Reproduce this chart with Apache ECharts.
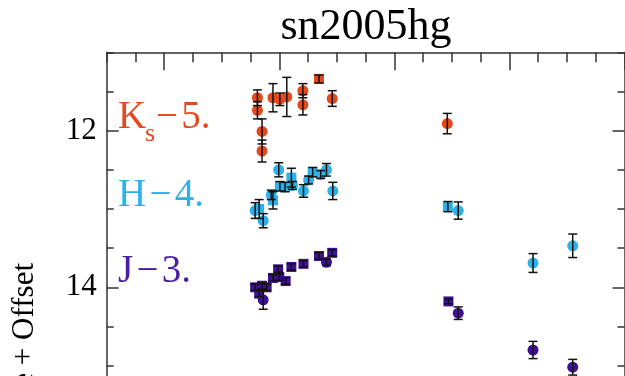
<!DOCTYPE html>
<html><head><meta charset="utf-8">
<script src="https://cdn.jsdelivr.net/npm/echarts@6/dist/echarts.min.js"></script>
<style>html,body{margin:0;padding:0;background:#fff}#c{width:625px;height:376px}</style>
</head><body><div id="c"></div>
<script>
const chartTitle = 'sn2005hg';
const yLabelText = 'Magnitude + Offset';
const yTickLabels = [12, 14, 16];
const xMajorTicks = [0, 20, 40, 60, 80];
// [day, magnitude, error]
const kCircles = [
  [16.2, 11.58, 0.10], [16.2, 11.74, 0.11], [17.0, 12.01, 0.16], [17.0, 12.26, 0.14],
  [18.9, 11.58, 0.18], [20.1, 11.60, 0.08], [21.3, 11.57, 0.25], [24.1, 11.49, 0.09],
  [24.1, 11.67, 0.13], [29.2, 11.59, 0.10], [49.2, 11.91, 0.13]
];
const kSquares = [[26.9, 11.34, 0.05]];
const hCircles = [
  [15.8, 13.02, 0.10], [17.2, 13.15, 0.09], [18.6, 12.82, 0.06], [19.9, 12.50, 0.09],
  [22.3, 12.70, 0.05], [24.2, 12.77, 0.08], [25.1, 12.63, 0.05], [27.2, 12.56, 0.05],
  [28.2, 12.50, 0.08], [29.3, 12.77, 0.11], [51.1, 13.02, 0.11], [64.1, 13.69, 0.12],
  [71.0, 13.47, 0.15]
];
const hSquares = [
  [16.5, 13.00, 0.12], [18.9, 12.89, 0.11], [20.1, 12.71, 0.06], [21.0, 12.72, 0.06],
  [22.1, 12.60, 0.12], [25.8, 12.53, 0.06], [49.3, 12.97, 0.065]
];
const jCircles = [
  [17.2, 14.16, 0.12], [28.2, 13.68, 0.04], [51.1, 14.33, 0.08], [64.1, 14.80, 0.11],
  [71.0, 15.02, 0.10]
];
const jSquares = [
  [15.8, 14.00, 0.04], [16.5, 14.08, 0.04], [17.0, 13.98, 0.04], [17.8, 14.00, 0.04],
  [18.9, 13.88, 0.04], [19.8, 13.77, 0.04], [20.0, 13.87, 0.04], [21.1, 13.92, 0.04],
  [22.1, 13.74, 0.04], [24.2, 13.70, 0.04], [26.9, 13.60, 0.04], [29.2, 13.56, 0.04],
  [49.4, 14.18, 0.03]
];
const colK = '#e5481c', colH = '#2db1e6', colJ = '#3f0f98';
const colJLabel = '#4a1ea2';

const FONT = 'Liberation Serif';
const axisCol = '#333';

function errBars(data) {
  return {
    type: 'custom', data: data, z: 4, silent: true,
    encode: { x: 0, y: 1 },
    renderItem: function (params, api) {
      const x = api.value(0), y = api.value(1), e = api.value(2);
      const a = api.coord([x, y - e]), b = api.coord([x, y + e]);
      const w = 4.5, st = { stroke: '#111', lineWidth: 1.5 };
      return { type: 'group', children: [
        { type: 'line', shape: { x1: a[0], y1: a[1], x2: b[0], y2: b[1] }, style: st },
        { type: 'line', shape: { x1: a[0] - w, y1: a[1], x2: a[0] + w, y2: a[1] }, style: st },
        { type: 'line', shape: { x1: b[0] - w, y1: b[1], x2: b[0] + w, y2: b[1] }, style: st }
      ]};
    }
  };
}
function pts(data, sym, col) {
  return { type: 'scatter', data: data.map(d => [d[0], d[1]]), symbol: sym,
    symbolSize: sym === 'rect' ? 10 : 11, itemStyle: { color: col, opacity: 1 }, z: 2, silent: true };
}

const xBase = { type: 'value', min: -10, max: 80, position: 'top', gridIndex: 0,
  splitLine: { show: false }, axisLabel: { show: false } };
const yBase = { type: 'value', min: 11, max: 16, inverse: true, gridIndex: 0,
  splitLine: { show: false } };

const chart = echarts.init(document.getElementById('c'), null, { renderer: 'canvas' });
chart.setOption({
  animation: false,
  backgroundColor: '#fff',
  grid: { left: 106.7, right: 0.5, top: 52.3, bottom: -68, containLabel: false, outerBoundsMode: 'none' },
  xAxis: [
    Object.assign({}, xBase, { interval: 5,
      axisLine: { show: true, onZero: false, lineStyle: { color: axisCol, width: 1.5 } },
      axisTick: { show: true, inside: true, length: 10, lineStyle: { color: axisCol, width: 1.5 } } }),
    Object.assign({}, xBase, {
      axisLine: { show: false, onZero: false },
      axisTick: { show: true, inside: true, length: 18, customValues: xMajorTicks, lineStyle: { color: axisCol, width: 1.5 } } })
  ],
  yAxis: [
    Object.assign({}, yBase, { position: 'left', interval: 0.5,
      axisLine: { show: true, onZero: false, lineStyle: { color: axisCol, width: 1.5 } },
      axisTick: { show: true, inside: true, length: 7, lineStyle: { color: axisCol, width: 1.5 } },
      axisLabel: { show: true, customValues: yTickLabels, margin: 10, fontFamily: FONT, fontSize: 31, color: '#000' } }),
    Object.assign({}, yBase, { position: 'left',
      axisLine: { show: false, onZero: false }, axisLabel: { show: false },
      axisTick: { show: true, inside: true, length: 12, customValues: yTickLabels, lineStyle: { color: axisCol, width: 1.5 } } }),
    Object.assign({}, yBase, { position: 'right', interval: 0.5,
      axisLine: { show: true, onZero: false, lineStyle: { color: axisCol, width: 1.5 } },
      axisTick: { show: true, inside: true, length: 7, lineStyle: { color: axisCol, width: 1.5 } },
      axisLabel: { show: false } }),
    Object.assign({}, yBase, { position: 'right',
      axisLine: { show: false, onZero: false }, axisLabel: { show: false },
      axisTick: { show: true, inside: true, length: 12, customValues: yTickLabels, lineStyle: { color: axisCol, width: 1.5 } } })
  ],
  graphic: [
    { type: 'text', x: 366, y: 27, style: { text: chartTitle, font: '44px "Liberation Serif"', fill: '#000', align: 'center', verticalAlign: 'middle' } },
    { type: 'text', x: 118, y: 118, style: { text: 'K', font: '39px "Liberation Serif"', fill: colK, align: 'left', verticalAlign: 'middle' } },
    { type: 'text', x: 145, y: 134, style: { text: 's', font: '26px "Liberation Serif"', fill: colK, align: 'left', verticalAlign: 'middle' } },
    { type: 'text', x: 156, y: 118, style: { text: '\u2212\u200a5.', font: '39px "Liberation Serif"', fill: colK, align: 'left', verticalAlign: 'middle' } },
    { type: 'text', x: 118, y: 196, style: { text: 'H\u200a\u2212\u200a4.', font: '39px "Liberation Serif"', fill: colH, align: 'left', verticalAlign: 'middle' } },
    { type: 'text', x: 118, y: 272, style: { text: 'J\u200a\u2212\u200a3.', font: '39px "Liberation Serif"', fill: colJLabel, align: 'left', verticalAlign: 'middle' } },
    { type: 'text', x: 25, y: 263, rotation: Math.PI / 2, style: { text: yLabelText, font: '31px "Liberation Serif"', fill: '#000', align: 'right', verticalAlign: 'middle' } }
  ],
  series: [
    pts(kCircles, 'circle', colK), pts(kSquares, 'rect', colK), errBars(kCircles.concat(kSquares)),
    pts(hCircles, 'circle', colH), pts(hSquares, 'rect', colH), errBars(hCircles.concat(hSquares)),
    pts(jCircles, 'circle', colJ), pts(jSquares, 'rect', colJ), errBars(jCircles.concat(jSquares))
  ]
});
</script></body></html>
